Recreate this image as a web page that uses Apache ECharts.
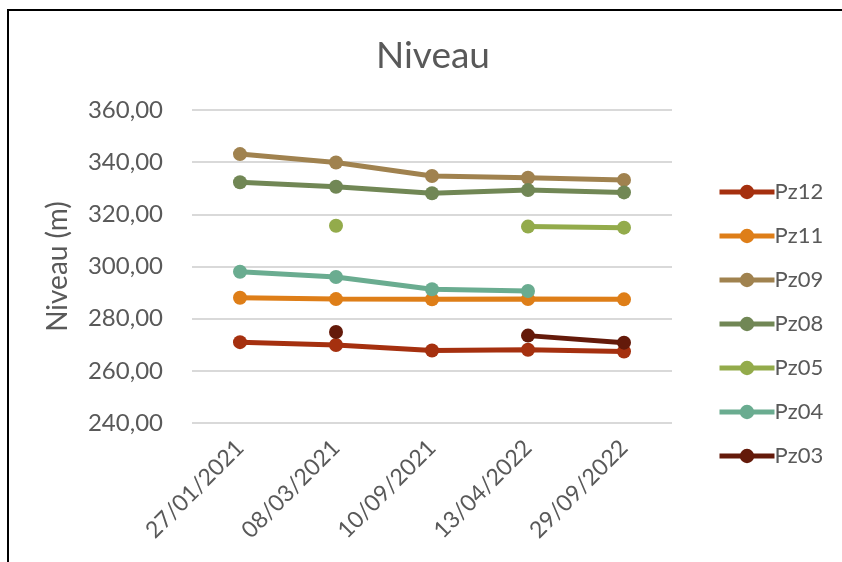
<!DOCTYPE html>
<html>
<head>
<meta charset="utf-8">
<script src="https://cdn.jsdelivr.net/npm/echarts@6/dist/echarts.min.js"></script>
<style>
  html, body { margin: 0; padding: 0; background: #fff; }
  #chart { width: 842px; height: 562px; }
</style>
</head>
<body>
<div id="chart"></div>
<script>
// dates of the readings
var dates = ['27/01/2021', '08/03/2021', '10/09/2021', '13/04/2022', '29/09/2022'];

var seriesNames = ['Pz12', 'Pz11', 'Pz09', 'Pz08', 'Pz05', 'Pz04', 'Pz03'];
var seriesColors = ['#A5300F', '#DE7E18', '#A0824F', '#718755', '#93AB4B', '#6AAC90', '#641A0A'];

// water level values (m), null = no reading
var pz12 = [271.0, 269.9, 267.8, 268.1, 267.4];
var pz11 = [288.0, 287.5, 287.4, 287.5, 287.4];
var pz09 = [343.1, 339.9, 334.7, 334.0, 333.2];
var pz08 = [332.3, 330.6, 328.1, 329.3, 328.4];
var pz05 = [null, 315.6, null, 315.3, 314.9];
var pz04 = [298.0, 296.0, 291.3, 290.6, null];
var pz03 = [null, 274.9, null, 273.5, 270.8];

var values = [pz12, pz11, pz09, pz08, pz05, pz04, pz03];

var textColor = '#595959';
var fontName = 'Lato, "Noto Sans", sans-serif';

var chart = echarts.init(document.getElementById('chart'));

var series = seriesNames.map(function (name, i) {
    return {
        name: name,
        type: 'line',
        data: values[i],
        connectNulls: false,
        symbol: 'circle',
        symbolSize: 14,
        lineStyle: { width: 5, color: seriesColors[i] },
        itemStyle: { color: seriesColors[i] },
        emphasis: { disabled: true },
        animation: false
    };
});

var option = {
    textStyle: { fontFamily: fontName },
    graphic: [{
        type: 'rect',
        shape: { x: 8, y: 10, width: 900, height: 600 },
        style: { fill: 'none', stroke: '#000', lineWidth: 2 },
        z: 100
    }],
    title: {
        text: 'Niveau',
        left: 428,
        top: 33,
        textAlign: 'center',
        textStyle: { color: textColor, fontSize: 37, fontWeight: 'normal', fontFamily: fontName }
    },
    legend: {
        orient: 'vertical',
        left: 712,
        top: 176,
        itemWidth: 55,
        itemHeight: 18,
        itemGap: 22,
        data: seriesNames,
        lineStyle: { width: 5 },
        textStyle: { color: textColor, fontSize: 22, lineHeight: 20, fontFamily: fontName, padding: [0, 0, 0, -5] }
    },
    grid: {
        left: 192,
        right: 170,
        top: 110,
        bottom: 139,
        containLabel: false
    },
    xAxis: {
        type: 'category',
        data: dates,
        boundaryGap: true,
        axisLine: { show: false },
        axisTick: { show: false },
        axisLabel: {
            rotate: 45,
            color: textColor,
            fontSize: 23,
            fontFamily: fontName,
            margin: 21
        }
    },
    yAxis: {
        type: 'value',
        min: 240,
        max: 360,
        interval: 20,
        name: 'Niveau (m)',
        nameLocation: 'middle',
        nameGap: 120,
        nameTextStyle: { color: textColor, fontSize: 28, fontFamily: fontName },
        axisLine: { show: false },
        axisTick: { show: false },
        axisLabel: {
            color: textColor,
            fontSize: 24,
            fontFamily: fontName,
            margin: 29,
            formatter: function (v) { return v.toFixed(2).replace('.', ','); }
        },
        splitLine: { lineStyle: { color: '#d9d9d9', width: 2 } }
    },
    series: series
};

chart.setOption(option);
</script>
</body>
</html>
